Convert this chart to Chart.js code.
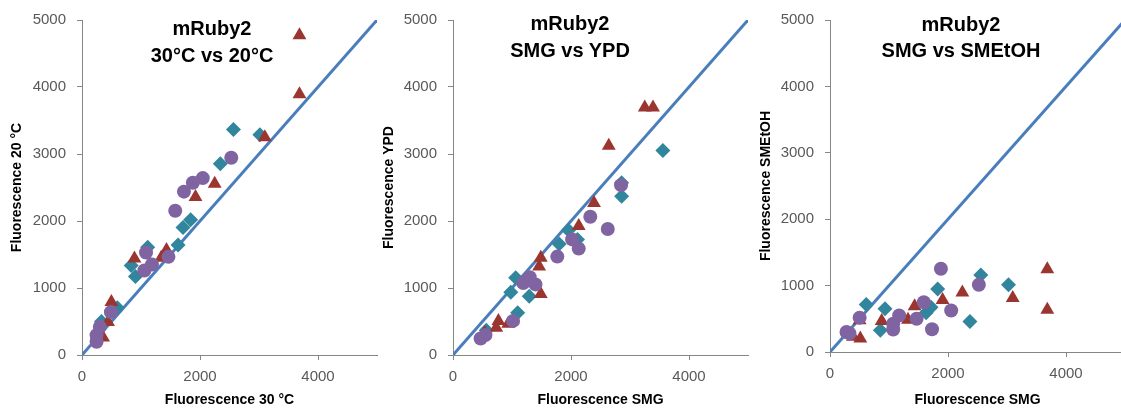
<!DOCTYPE html>
<html>
<head>
<meta charset="utf-8">
<script src="https://cdn.jsdelivr.net/npm/chart.js@4"></script>
<style>
html,body{margin:0;padding:0;width:1121px;height:410px;overflow:hidden;background:#fff}
.panel{position:absolute;top:0}
.ttl{position:absolute;font:bold 20px 'Liberation Sans',Arial,sans-serif;line-height:27px;text-align:center;white-space:nowrap;color:#000;transform:translateX(-50%)}
</style>
</head>
<body>
<div class="panel" style="left:0"><canvas id="c1" width="385" height="410"></canvas></div>
<div class="panel" style="left:371px"><canvas id="c2" width="385" height="410"></canvas></div>
<div class="panel" style="left:748px"><canvas id="c3" width="385" height="410"></canvas></div>

<div class="ttl" style="left:212px;top:15px">mRuby2<br>30°C vs 20°C</div>
<div class="ttl" style="left:570px;top:10px">mRuby2<br>SMG vs YPD</div>
<div class="ttl" style="left:961px;top:11px;line-height:26px">mRuby2<br>SMG vs SMEtOH</div>

<script>
/* ── 데이터 (x, y) ───────────────────────────────────────── */
const X_TICKS = [0, 2000, 4000];
const Y_TICKS = [0, 1000, 2000, 3000, 4000, 5000];
const DIAGONAL = [0, 5000];   // y = x 기준선

// 패널 1 — 30°C vs 20°C
const p1Diamonds = [[2567,3364],[3015,3289],[2344,2856],[1841,2018],[1712,1904],[1628,1640],[1113,1607],[834,1336],[906,1172],[600,705],[330,500]];
const p1Triangles = [[3686,4774],[3686,3893],[3099,3250],[2249,2557],[1924,2360],[1432,1568],[1342,1450],[889,1440],[498,791],[441,494],[357,260]];
const p1Circles = [[2530,2944],[2047,2640],[1879,2572],[1728,2438],[1580,2152],[1465,1465],[1085,1530],[1186,1350],[1057,1261],[490,640],[302,420],[247,297],[247,198]];

// 패널 2 — SMG vs YPD
const p2Diamonds = [[3557,3052],[2858,2572],[2858,2370],[1958,1862],[2110,1725],[1800,1658],[1063,1153],[980,935],[1292,878],[1096,630],[565,371]];
const p2Triangles = [[3250,3695],[3390,3695],[2640,3125],[2390,2267],[2131,1925],[1488,1450],[1460,1321],[1488,910],[770,509],[733,408],[936,465],[540,328]];
const p2Circles = [[2848,2535],[2327,2063],[2623,1880],[2019,1725],[2131,1588],[1768,1469],[1300,1160],[1191,1073],[1398,1054],[1018,509],[550,297],[468,247]];

// 패널 3 — SMG vs SMEtOH
const p3Diamonds = [[2556,1161],[3025,1012],[1825,947],[2372,461],[1712,675],[1629,590],[932,650],[854,327],[614,714]];
const p3Triangles = [[3683,1245],[3683,635],[3097,814],[2243,897],[1908,784],[1434,690],[1322,486],[876,466],[514,203],[390,228],[502,480]];
const p3Circles = [[1880,1254],[2523,1012],[2054,625],[1590,749],[1468,501],[1172,550],[1071,427],[1071,338],[1729,342],[502,516],[280,302],[330,280]];

/* ── 스타일 ──────────────────────────────────────────────── */
const TEAL = '#31859C';
const RED = '#9B3530';
const PURPLE = '#8064A2';
const LINE = '#4A7EBB';
const AXIS = '#868686';
const FONT = "'Liberation Sans', Arial, sans-serif";

const pts = arr => arr.map(([x,y]) => ({x, y}));

function mkPanel(canvasId, p){
  const el = document.getElementById(canvasId);
  if(!el) return;
  new Chart(el, {
    type:'scatter',
    data:{ datasets:[
      { data:pts(p.circles), pointStyle:'circle', pointRadius:7, backgroundColor:PURPLE, borderWidth:0, order:1 },
      { data:pts(p.triangles), pointStyle:'triangle', pointRadius:8, backgroundColor:RED, borderWidth:0, order:2 },
      { data:pts(p.diamonds), pointStyle:'rectRot', pointRadius:7.5, backgroundColor:TEAL, borderWidth:0, order:3 },
      { type:'line', data:DIAGONAL.map(v => ({x:v, y:v})), borderColor:LINE, borderWidth:3,
        pointRadius:0, fill:false, order:4 }
    ]},
    options:{
      responsive:false, animation:false,
      layout:{ padding:{ top:p.top, right:5, left:0, bottom:0 } },
      plugins:{ legend:{display:false}, tooltip:{enabled:false} },
      scales:{
        x:{
          type:'linear', min:0, max:5000,
          afterBuildTicks: s => { s.ticks = X_TICKS.map(v => ({value:v})); },
          afterFit: s => { s.height = p.xh; },
          grid:{ drawOnChartArea:false, tickLength:5, color:AXIS },
          border:{ color:AXIS },
          ticks:{ padding:8, color:'#595959', font:{family:FONT, size:15}, callback:v => String(v) },
          title:{ display:true, text:p.xTitle, color:'#000', font:{family:FONT, size:14, weight:'bold'}, padding:{top:0, bottom:1} }
        },
        y:{
          type:'linear', min:0, max:5000,
          afterBuildTicks: s => { s.ticks = Y_TICKS.map(v => ({value:v})); },
          afterFit: s => { s.width = 82; },
          grid:{ drawOnChartArea:false, tickLength:5, color:AXIS },
          border:{ color:AXIS },
          ticks:{ padding:11, color:'#595959', font:{family:FONT, size:15}, callback:v => String(v) },
          title:{ display:true, text:p.yTitle, color:'#000', font:{family:FONT, size:14, weight:'bold'}, padding:{top:p.ytPad, bottom:0} }
        }
      }
    }
  });
}

mkPanel('c1', { diamonds:p1Diamonds, triangles:p1Triangles, circles:p1Circles, top:18, xh:55, ytPad:9,
  xTitle:'Fluorescence 30 °C', yTitle:'Fluorescence 20 °C' });
mkPanel('c2', { diamonds:p2Diamonds, triangles:p2Triangles, circles:p2Circles, top:18, xh:55, ytPad:10,
  xTitle:'Fluorescence SMG', yTitle:'Fluorescence YPD' });
mkPanel('c3', { diamonds:p3Diamonds, triangles:p3Triangles, circles:p3Circles, top:16, xh:58, ytPad:10,
  xTitle:'Fluorescence SMG', yTitle:'Fluorescence SMEtOH' });
</script>
</body>
</html>
